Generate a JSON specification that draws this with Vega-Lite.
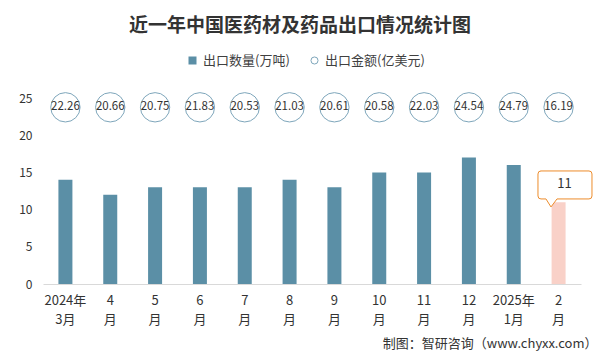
{
  "$schema": "https://vega.github.io/schema/vega-lite/v6.json",
  "width": 538,
  "height": 186,
  "autosize": "none",
  "padding": {"left": 43, "top": 98, "right": 21, "bottom": 72},
  "background": "white",
  "config": {
    "font": "Noto Sans CJK SC",
    "view": {"stroke": null}
  },
  "title": {
    "text": "近一年中国医药材及药品出口情况统计图",
    "font": "Noto Sans CJK SC",
    "fontSize": 19,
    "fontWeight": "bold",
    "color": "#333333",
    "anchor": "middle",
    "frame": "group",
    "dx": -12,
    "dy": -8,
    "offset": 10
  },
  "data": {
    "values": [
      {"month": "2024年|3月", "qty": 14, "amount": 22.26},
      {"month": "4|月", "qty": 12, "amount": 20.66},
      {"month": "5|月", "qty": 13, "amount": 20.75},
      {"month": "6|月", "qty": 13, "amount": 21.83},
      {"month": "7|月", "qty": 13, "amount": 20.53},
      {"month": "8|月", "qty": 14, "amount": 21.03},
      {"month": "9|月", "qty": 13, "amount": 20.61},
      {"month": "10|月", "qty": 15, "amount": 20.58},
      {"month": "11|月", "qty": 15, "amount": 22.03},
      {"month": "12|月", "qty": 17, "amount": 24.54},
      {"month": "2025年|1月", "qty": 16, "amount": 24.79},
      {"month": "2|月", "qty": 11, "amount": 16.19}
    ]
  },
  "encoding": {
    "x": {
      "field": "month",
      "type": "nominal",
      "sort": null,
      "axis": {
        "title": "制图：智研咨询（www.chyxx.com）",
        "titleFont": "Noto Sans CJK SC",
        "titleFontSize": 13,
        "titleFontWeight": "normal",
        "titleColor": "#333333",
        "titleAnchor": "end",
        "titleAlign": "right",
        "titleBaseline": "middle",
        "titleX": 554,
        "titleY": 59,
        "labelExpr": "split(datum.value, '|')",
        "labelAngle": 0,
        "labelFontSize": 13,
        "labelLineHeight": 19,
        "labelPadding": 10,
        "labelColor": "#333333",
        "ticks": false,
        "domainColor": "#d9d9d9",
        "domainWidth": 1
      }
    },
    "y": {
      "field": "qty",
      "type": "quantitative",
      "scale": {"domain": [0, 25], "nice": false},
      "axis": {
        "title": null,
        "values": [0, 5, 10, 15, 20, 25],
        "labelOverlap": false,
        "labelBound": false,
        "labelFlush": false,
        "grid": false,
        "domain": false,
        "ticks": false,
        "labelPadding": 11,
        "labelFontSize": 12,
        "labelColor": "#333333"
      }
    }
  },
  "layer": [
    {
      "transform": [{"filter": "datum.month !== '2|月'"}],
      "mark": {"type": "bar", "size": 14},
      "encoding": {
        "color": {
          "datum": "出口数量(万吨)",
          "scale": {"range": ["#5b8fa6"]},
          "legend": {
            "title": null,
            "orient": "none",
            "legendX": 143,
            "legendY": -44,
            "symbolType": "square",
            "symbolSize": 64,
            "labelFontSize": 13,
            "labelColor": "#404040",
            "labelOffset": 4,
            "padding": 0
          }
        }
      }
    },
    {
      "transform": [{"filter": "datum.month === '2|月'"}],
      "mark": {"type": "bar", "size": 14, "color": "#f9d1c8"}
    },
    {
      "mark": {"type": "point", "filled": false, "size": 860, "strokeWidth": 1, "opacity": 1},
      "encoding": {
        "y": {"datum": 23.75, "type": "quantitative"},
        "stroke": {
          "datum": "出口金额(亿美元)",
          "scale": {"range": ["#7ea6bb"]},
          "legend": {
            "title": null,
            "orient": "none",
            "legendX": 265,
            "legendY": -44,
            "symbolType": "circle",
            "symbolSize": 50,
            "symbolStrokeWidth": 1,
            "labelFontSize": 13,
            "labelColor": "#404040",
            "labelOffset": 4,
            "padding": 0
          }
        }
      }
    },
    {
      "mark": {"type": "text", "fontSize": 11.5, "color": "#333333", "baseline": "middle"},
      "encoding": {
        "y": {"datum": 23.75, "type": "quantitative"},
        "text": {"field": "amount", "type": "quantitative", "format": ".2f"}
      }
    },
    {
      "transform": [{"filter": "datum.month === '2|月'"}],
      "mark": {
        "type": "point",
        "shape": "M-0.59,-1.04 L1.013,-1.04 Q1.113,-1.04 1.113,-0.94 L1.113,-0.207 Q1.113,-0.107 1.013,-0.107 L-0.053,-0.107 L-0.253,0.16 L-0.42,-0.107 L-0.587,-0.107 Q-0.687,-0.107 -0.687,-0.207 L-0.687,-0.94 Q-0.687,-1.04 -0.587,-1.04 Z",
        "size": 3600,
        "filled": true,
        "fill": "white",
        "stroke": "#ed8c2b",
        "strokeWidth": 1,
        "opacity": 1
      }
    },
    {
      "transform": [{"filter": "datum.month === '2|月'"}],
      "mark": {"type": "text", "fontSize": 13, "color": "#333333", "baseline": "middle", "dx": 6, "dy": -18},
      "encoding": {
        "text": {"field": "qty", "type": "quantitative"}
      }
    }
  ]
}
